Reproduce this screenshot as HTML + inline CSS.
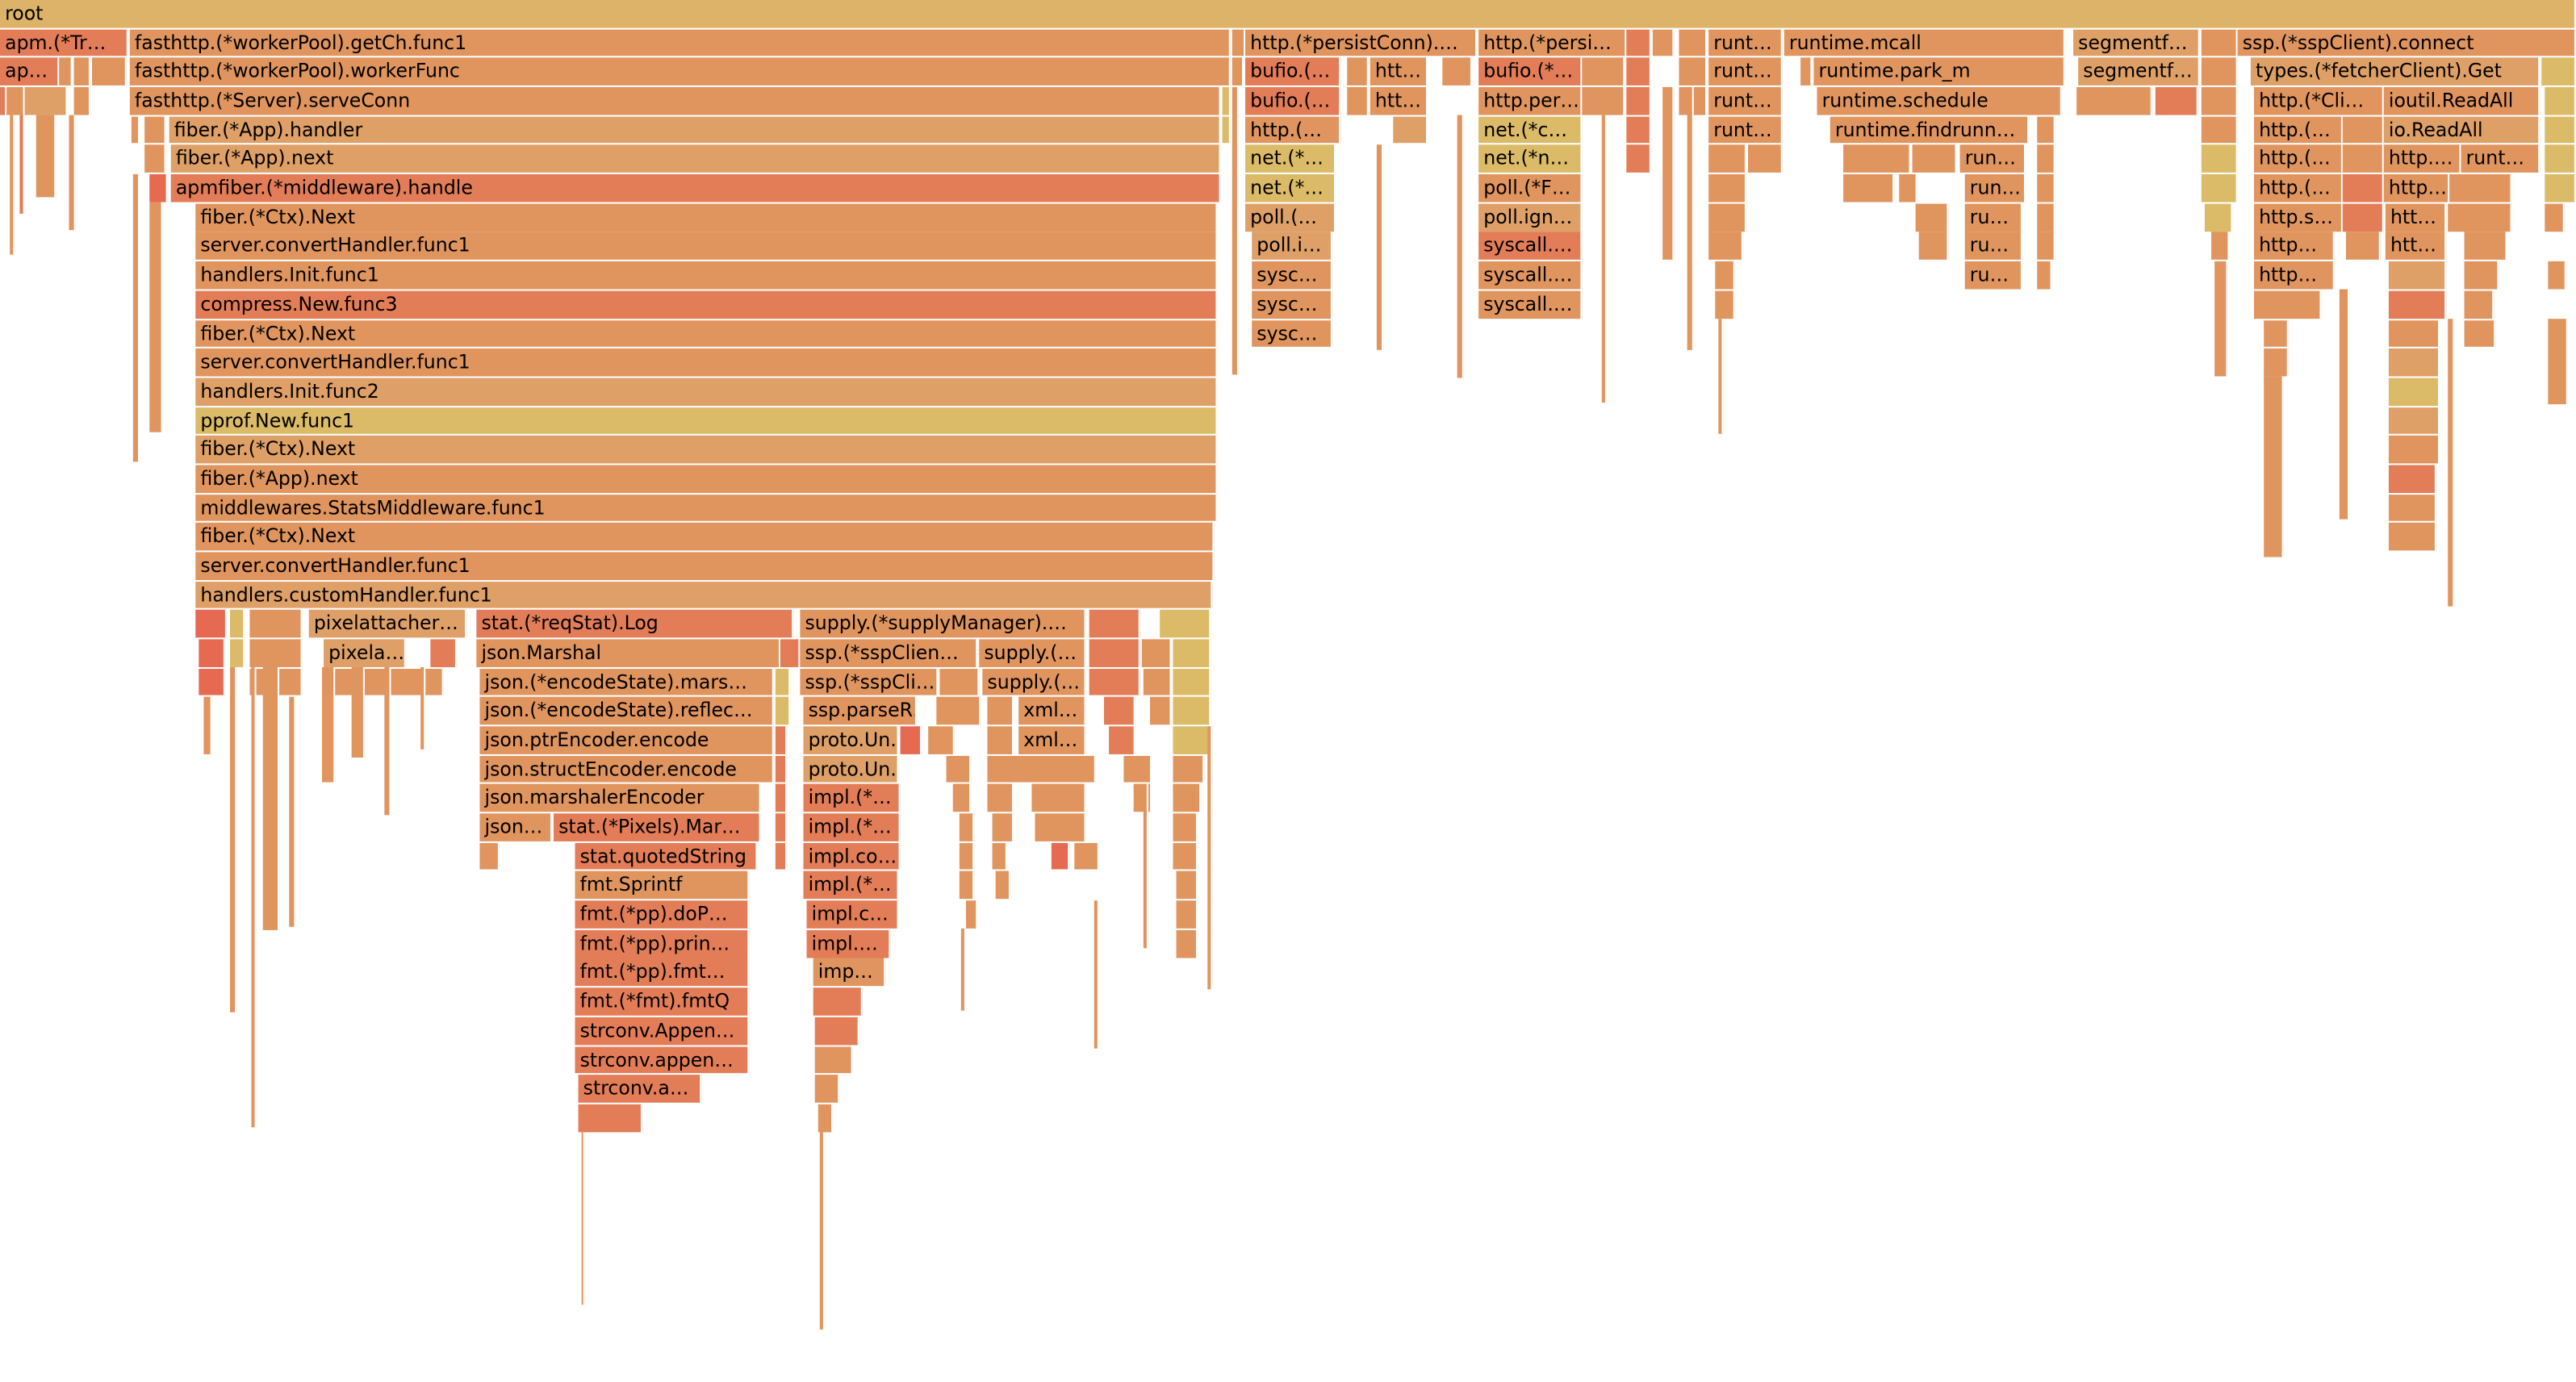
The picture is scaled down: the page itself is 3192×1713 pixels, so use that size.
<!DOCTYPE html>
<html><head><meta charset="utf-8"><style>
html,body{margin:0;padding:0;background:#fff;width:3192px;height:1713px;overflow:hidden}
#c{position:absolute;left:0;top:0;width:1568px;height:841px;transform:scale(2.0357,2.0369);transform-origin:0 0}
.b{position:absolute;height:16.8px;font:11.6px/16.8px "DejaVu Sans","Liberation Sans",sans-serif;color:#000;white-space:nowrap;overflow:hidden;padding-left:3px;box-sizing:border-box;border-right:1px solid #fff}
.s{position:absolute;box-sizing:border-box;border-right:1px solid #fff}
.O{background:#e0955f}.L{background:#dea067}.R{background:#e37d58}.Y{background:#dbbb67}.D{background:#e66a52}.T{background:#dcb368}
.r0{top:0}.r1{top:17.7px}.r2{top:35.4px}.r3{top:53px}.r4{top:70.7px}.r5{top:88.4px}.r6{top:106px}.r7{top:123.8px}.r8{top:141.4px}.r9{top:159.1px}.r10{top:176.8px}.r11{top:194.5px}.r12{top:212.2px}.r13{top:229.8px}.r14{top:247.5px}.r15{top:265.2px}.r16{top:282.9px}.r17{top:300.6px}.r18{top:318.2px}.r19{top:335.9px}.r20{top:353.6px}.r21{top:371.3px}.r22{top:389px}.r23{top:406.6px}.r24{top:424.3px}.r25{top:442px}.r26{top:459.7px}.r27{top:477.4px}.r28{top:495px}.r29{top:512.7px}.r30{top:530.4px}.r31{top:548.1px}.r32{top:565.8px}.r33{top:583.4px}.r34{top:601.1px}.r35{top:618.8px}.r36{top:636.5px}.r37{top:654.2px}.r38{top:671.8px}
</style></head><body><div id="c">
<div class="b T r0" style="left:0;width:1568px">root</div>
<!-- row1 -->
<div class="b R r1" style="left:0;width:78px">apm.(*Tr…</div>
<div class="b O r1" style="left:79px;width:670px">fasthttp.(*workerPool).getCh.func1</div>
<div class="b O r1" style="left:750px;width:8px"></div>
<div class="b O r1" style="left:758px;width:141px">http.(*persistConn).…</div>
<div class="b O r1" style="left:900px;width:90px">http.(*persi…</div>
<div class="b R r1" style="left:990px;width:15px"></div>
<div class="b O r1" style="left:1006px;width:13px"></div>
<div class="b O r1" style="left:1022px;width:17px"></div>
<div class="b O r1" style="left:1040px;width:45px">runt…</div>
<div class="b O r1" style="left:1086px;width:171px">runtime.mcall</div>
<div class="b L r1" style="left:1262px;width:77px">segmentf…</div>
<div class="b O r1" style="left:1340px;width:22px"></div>
<div class="b O r1" style="left:1362px;width:206px">ssp.(*sspClient).connect</div>
<!-- row2 -->
<div class="b R r2" style="left:0;width:36px">ap…</div>
<div class="b O r2" style="left:36px;width:8px"></div>
<div class="b O r2" style="left:45px;width:10px"></div>
<div class="b O r2" style="left:56px;width:21px"></div>
<div class="b O r2" style="left:79px;width:670px">fasthttp.(*workerPool).workerFunc</div>
<div class="b O r2" style="left:750px;width:7px"></div>
<div class="b R r2" style="left:758px;width:58px">bufio.(…</div>
<div class="b O r2" style="left:820px;width:13px"></div>
<div class="b O r2" style="left:834px;width:35px">htt…</div>
<div class="b O r2" style="left:878px;width:18px"></div>
<div class="b R r2" style="left:900px;width:63px">bufio.(*…</div>
<div class="b O r2" style="left:963px;width:26px"></div>
<div class="b R r2" style="left:990px;width:15px"></div>
<div class="b O r2" style="left:1022px;width:17px"></div>
<div class="b O r2" style="left:1040px;width:45px">runt…</div>
<div class="b O r2" style="left:1096px;width:7px"></div>
<div class="b O r2" style="left:1104px;width:153px">runtime.park_m</div>
<div class="b L r2" style="left:1265px;width:74px">segmentf…</div>
<div class="b O r2" style="left:1340px;width:22px"></div>
<div class="b L r2" style="left:1370px;width:176px">types.(*fetcherClient).Get</div>
<div class="b Y r2" style="left:1547px;width:21px"></div>
<!-- row3 -->
<div class="b R r3" style="left:0;width:4px"></div>
<div class="b O r3" style="left:4px;width:11px"></div>
<div class="b L r3" style="left:15px;width:26px"></div>
<div class="b O r3" style="left:45px;width:10px"></div>
<div class="b O r3" style="left:79px;width:664px">fasthttp.(*Server).serveConn</div>
<div class="b Y r3" style="left:744px;width:5px"></div>
<div class="b R r3" style="left:758px;width:58px">bufio.(…</div>
<div class="b O r3" style="left:820px;width:13px"></div>
<div class="b O r3" style="left:834px;width:35px">htt…</div>
<div class="b O r3" style="left:900px;width:63px">http.per…</div>
<div class="b O r3" style="left:963px;width:26px"></div>
<div class="b R r3" style="left:990px;width:15px"></div>
<div class="b O r3" style="left:1022px;width:17px"></div>
<div class="b O r3" style="left:1040px;width:45px">runt…</div>
<div class="b O r3" style="left:1106px;width:149px">runtime.schedule</div>
<div class="b O r3" style="left:1264px;width:46px"></div>
<div class="b R r3" style="left:1312px;width:26px"></div>
<div class="b O r3" style="left:1340px;width:22px"></div>
<div class="b O r3" style="left:1372px;width:79px">http.(*Cli…</div>
<div class="b O r3" style="left:1451px;width:95px">ioutil.ReadAll</div>
<div class="b Y r3" style="left:1549px;width:19px"></div>
<!-- row4 -->
<div class="b O r4" style="left:80px;width:5px"></div>
<div class="b O r4" style="left:88px;width:13px"></div>
<div class="b L r4" style="left:103px;width:640px">fiber.(*App).handler</div>
<div class="b Y r4" style="left:744px;width:5px"></div>
<div class="b O r4" style="left:758px;width:58px">http.(…</div>
<div class="b L r4" style="left:848px;width:21px"></div>
<div class="b Y r4" style="left:900px;width:63px">net.(*c…</div>
<div class="b R r4" style="left:990px;width:15px"></div>
<div class="b O r4" style="left:1040px;width:45px">runt…</div>
<div class="b O r4" style="left:1114px;width:121px">runtime.findrunn…</div>
<div class="b O r4" style="left:1240px;width:11px"></div>
<div class="b O r4" style="left:1340px;width:22px"></div>
<div class="b O r4" style="left:1372px;width:54px">http.(…</div>
<div class="b O r4" style="left:1426px;width:25px"></div>
<div class="b L r4" style="left:1451px;width:95px">io.ReadAll</div>
<div class="b Y r4" style="left:1549px;width:19px"></div>
<!-- row5 -->
<div class="b O r5" style="left:88px;width:13px"></div>
<div class="b L r5" style="left:104px;width:639px">fiber.(*App).next</div>
<div class="b Y r5" style="left:758px;width:55px">net.(*…</div>
<div class="b Y r5" style="left:900px;width:63px">net.(*n…</div>
<div class="b R r5" style="left:990px;width:15px"></div>
<div class="b O r5" style="left:1040px;width:23px"></div>
<div class="b O r5" style="left:1064px;width:21px"></div>
<div class="b O r5" style="left:1122px;width:41px"></div>
<div class="b O r5" style="left:1164px;width:27px"></div>
<div class="b O r5" style="left:1193px;width:40px">run…</div>
<div class="b O r5" style="left:1240px;width:11px"></div>
<div class="b Y r5" style="left:1340px;width:22px"></div>
<div class="b O r5" style="left:1372px;width:54px">http.(…</div>
<div class="b O r5" style="left:1426px;width:25px"></div>
<div class="b O r5" style="left:1451px;width:47px">http.…</div>
<div class="b O r5" style="left:1498px;width:48px">runt…</div>
<div class="b Y r5" style="left:1549px;width:19px"></div>
<!-- row6 -->
<div class="b D r6" style="left:91px;width:11px"></div>
<div class="b R r6" style="left:104px;width:639px">apmfiber.(*middleware).handle</div>
<div class="b Y r6" style="left:758px;width:55px">net.(*…</div>
<div class="b O r6" style="left:900px;width:63px">poll.(*F…</div>
<div class="b O r6" style="left:1040px;width:23px"></div>
<div class="b O r6" style="left:1122px;width:31px"></div>
<div class="b O r6" style="left:1156px;width:11px"></div>
<div class="b O r6" style="left:1196px;width:37px">run…</div>
<div class="b O r6" style="left:1240px;width:11px"></div>
<div class="b Y r6" style="left:1340px;width:22px"></div>
<div class="b O r6" style="left:1372px;width:54px">http.(…</div>
<div class="b R r6" style="left:1426px;width:25px"></div>
<div class="b O r6" style="left:1451px;width:40px">http…</div>
<div class="b O r6" style="left:1491px;width:38px"></div>
<div class="b Y r6" style="left:1549px;width:19px"></div>
<!-- row7 -->
<div class="b O r7" style="left:119px;width:622px">fiber.(*Ctx).Next</div>
<div class="b L r7" style="left:758px;width:55px">poll.(…</div>
<div class="b L r7" style="left:900px;width:63px">poll.ign…</div>
<div class="b O r7" style="left:1040px;width:23px"></div>
<div class="b O r7" style="left:1166px;width:20px"></div>
<div class="b O r7" style="left:1196px;width:35px">ru…</div>
<div class="b O r7" style="left:1240px;width:11px"></div>
<div class="b Y r7" style="left:1342px;width:17px"></div>
<div class="b O r7" style="left:1372px;width:54px">http.s…</div>
<div class="b R r7" style="left:1426px;width:25px"></div>
<div class="b O r7" style="left:1452px;width:37px">htt…</div>
<div class="b O r7" style="left:1490px;width:39px"></div>
<div class="b O r7" style="left:1549px;width:12px"></div>
<!-- row8 -->
<div class="b O r8" style="left:119px;width:622px">server.convertHandler.func1</div>
<div class="b L r8" style="left:762px;width:49px">poll.i…</div>
<div class="b R r8" style="left:900px;width:63px">syscall.…</div>
<div class="b O r8" style="left:1040px;width:21px"></div>
<div class="b O r8" style="left:1168px;width:18px"></div>
<div class="b O r8" style="left:1196px;width:35px">ru…</div>
<div class="b O r8" style="left:1240px;width:11px"></div>
<div class="b O r8" style="left:1346px;width:11px"></div>
<div class="b O r8" style="left:1372px;width:49px">http…</div>
<div class="b O r8" style="left:1428px;width:21px"></div>
<div class="b O r8" style="left:1452px;width:37px">htt…</div>
<div class="b O r8" style="left:1500px;width:26px"></div>
<!-- row9 -->
<div class="b O r9" style="left:119px;width:622px">handlers.Init.func1</div>
<div class="b O r9" style="left:762px;width:49px">sysc…</div>
<div class="b O r9" style="left:900px;width:63px">syscall.…</div>
<div class="b O r9" style="left:1044px;width:12px"></div>
<div class="b O r9" style="left:1196px;width:35px">ru…</div>
<div class="b O r9" style="left:1240px;width:9px"></div>
<div class="b O r9" style="left:1372px;width:49px">http…</div>
<div class="b L r9" style="left:1454px;width:35px"></div>
<div class="b O r9" style="left:1500px;width:21px"></div>
<div class="b O r9" style="left:1551px;width:11px"></div>
<!-- row10 -->
<div class="b R r10" style="left:119px;width:622px">compress.New.func3</div>
<div class="b O r10" style="left:762px;width:49px">sysc…</div>
<div class="b O r10" style="left:900px;width:63px">syscall.…</div>
<div class="b O r10" style="left:1044px;width:12px"></div>
<div class="b O r10" style="left:1372px;width:41px"></div>
<div class="b R r10" style="left:1454px;width:35px"></div>
<div class="b O r10" style="left:1500px;width:18px"></div>
<!-- row11-20 -->
<div class="b O r11" style="left:119px;width:622px">fiber.(*Ctx).Next</div>
<div class="b O r11" style="left:762px;width:49px">sysc…</div>
<div class="b O r11" style="left:1378px;width:15px"></div>
<div class="b O r11" style="left:1454px;width:31px"></div>
<div class="b O r11" style="left:1500px;width:19px"></div>
<div class="b O r12" style="left:119px;width:622px">server.convertHandler.func1</div>
<div class="b O r12" style="left:1378px;width:15px"></div>
<div class="b L r12" style="left:1454px;width:31px"></div>
<div class="b L r13" style="left:119px;width:622px">handlers.Init.func2</div>
<div class="b Y r13" style="left:1454px;width:31px"></div>
<div class="b Y r14" style="left:119px;width:622px">pprof.New.func1</div>
<div class="b L r14" style="left:1454px;width:31px"></div>
<div class="b L r15" style="left:119px;width:622px">fiber.(*Ctx).Next</div>
<div class="b O r15" style="left:1454px;width:31px"></div>
<div class="b O r16" style="left:119px;width:622px">fiber.(*App).next</div>
<div class="b R r16" style="left:1454px;width:29px"></div>
<div class="b O r17" style="left:119px;width:622px">middlewares.StatsMiddleware.func1</div>
<div class="b O r17" style="left:1454px;width:29px"></div>
<div class="b O r18" style="left:119px;width:620px">fiber.(*Ctx).Next</div>
<div class="b O r18" style="left:1454px;width:29px"></div>
<div class="b O r19" style="left:119px;width:620px">server.convertHandler.func1</div>
<div class="b L r20" style="left:119px;width:619px">handlers.customHandler.func1</div>
<!-- row21 -->
<div class="b D r21" style="left:119px;width:19px"></div>
<div class="b Y r21" style="left:140px;width:9px"></div>
<div class="b O r21" style="left:152px;width:32px"></div>
<div class="b L r21" style="left:188px;width:96px">pixelattacher…</div>
<div class="b R r21" style="left:290px;width:193px">stat.(*reqStat).Log</div>
<div class="b O r21" style="left:487px;width:174px">supply.(*supplyManager).…</div>
<div class="b R r21" style="left:663px;width:31px"></div>
<div class="b Y r21" style="left:706px;width:31px"></div>
<!-- row22 -->
<div class="b D r22" style="left:121px;width:16px"></div>
<div class="b Y r22" style="left:140px;width:9px"></div>
<div class="b O r22" style="left:152px;width:32px"></div>
<div class="b L r22" style="left:197px;width:50px">pixela…</div>
<div class="b R r22" style="left:262px;width:16px"></div>
<div class="b O r22" style="left:290px;width:185px">json.Marshal</div>
<div class="b R r22" style="left:475px;width:12px"></div>
<div class="b O r22" style="left:487px;width:108px">ssp.(*sspClien…</div>
<div class="b O r22" style="left:596px;width:65px">supply.(…</div>
<div class="b R r22" style="left:663px;width:31px"></div>
<div class="b O r22" style="left:695px;width:18px"></div>
<div class="b Y r22" style="left:714px;width:23px"></div>
<!-- row23 -->
<div class="b D r23" style="left:121px;width:16px"></div>
<div class="b O r23" style="left:152px;width:32px"></div>
<div class="b O r23" style="left:200px;width:70px"></div>
<div class="b O r23" style="left:292px;width:179px">json.(*encodeState).mars…</div>
<div class="b Y r23" style="left:472px;width:9px"></div>
<div class="b O r23" style="left:487px;width:84px">ssp.(*sspCli…</div>
<div class="b O r23" style="left:572px;width:24px"></div>
<div class="b O r23" style="left:598px;width:63px">supply.(…</div>
<div class="b R r23" style="left:663px;width:31px"></div>
<div class="b O r23" style="left:696px;width:17px"></div>
<div class="b Y r23" style="left:714px;width:23px"></div>
<!-- row24 -->
<div class="b O r24" style="left:292px;width:179px">json.(*encodeState).reflec…</div>
<div class="b Y r24" style="left:472px;width:9px"></div>
<div class="b O r24" style="left:489px;width:69px">ssp.parseR…</div>
<div class="b O r24" style="left:570px;width:27px"></div>
<div class="b O r24" style="left:601px;width:16px"></div>
<div class="b O r24" style="left:620px;width:41px">xml…</div>
<div class="b R r24" style="left:672px;width:19px"></div>
<div class="b O r24" style="left:700px;width:13px"></div>
<div class="b Y r24" style="left:714px;width:23px"></div>
<!-- row25 -->
<div class="b O r25" style="left:292px;width:179px">json.ptrEncoder.encode</div>
<div class="b R r25" style="left:472px;width:7px"></div>
<div class="b L r25" style="left:489px;width:58px">proto.Un…</div>
<div class="b D r25" style="left:548px;width:13px"></div>
<div class="b O r25" style="left:565px;width:16px"></div>
<div class="b O r25" style="left:601px;width:16px"></div>
<div class="b O r25" style="left:620px;width:41px">xml…</div>
<div class="b R r25" style="left:675px;width:16px"></div>
<div class="b Y r25" style="left:714px;width:23px"></div>
<!-- row26 -->
<div class="b O r26" style="left:292px;width:179px">json.structEncoder.encode</div>
<div class="b R r26" style="left:472px;width:7px"></div>
<div class="b L r26" style="left:489px;width:58px">proto.Un…</div>
<div class="b O r26" style="left:576px;width:15px"></div>
<div class="b O r26" style="left:601px;width:66px"></div>
<div class="b O r26" style="left:684px;width:17px"></div>
<div class="b O r26" style="left:714px;width:19px"></div>
<!-- row27 -->
<div class="b O r27" style="left:292px;width:171px">json.marshalerEncoder</div>
<div class="b R r27" style="left:472px;width:7px"></div>
<div class="b R r27" style="left:489px;width:59px">impl.(*…</div>
<div class="b O r27" style="left:580px;width:11px"></div>
<div class="b O r27" style="left:601px;width:16px"></div>
<div class="b O r27" style="left:628px;width:33px"></div>
<div class="b O r27" style="left:690px;width:11px"></div>
<div class="b O r27" style="left:714px;width:17px"></div>
<!-- row28 -->
<div class="b O r28" style="left:292px;width:44px">json…</div>
<div class="b R r28" style="left:337px;width:126px">stat.(*Pixels).Mar…</div>
<div class="b R r28" style="left:472px;width:7px"></div>
<div class="b R r28" style="left:489px;width:59px">impl.(*…</div>
<div class="b O r28" style="left:584px;width:9px"></div>
<div class="b O r28" style="left:604px;width:13px"></div>
<div class="b O r28" style="left:630px;width:31px"></div>
<div class="b O r28" style="left:714px;width:15px"></div>
<!-- row29 -->
<div class="b O r29" style="left:292px;width:12px"></div>
<div class="b R r29" style="left:350px;width:111px">stat.quotedString</div>
<div class="b R r29" style="left:472px;width:7px"></div>
<div class="b R r29" style="left:489px;width:59px">impl.co…</div>
<div class="b O r29" style="left:584px;width:9px"></div>
<div class="b O r29" style="left:604px;width:9px"></div>
<div class="b D r29" style="left:640px;width:11px"></div>
<div class="b O r29" style="left:654px;width:15px"></div>
<div class="b O r29" style="left:714px;width:15px"></div>
<!-- rows30-38 -->
<div class="b O r30" style="left:350px;width:106px">fmt.Sprintf</div>
<div class="b R r30" style="left:489px;width:58px">impl.(*…</div>
<div class="b O r30" style="left:584px;width:9px"></div>
<div class="b O r30" style="left:606px;width:9px"></div>
<div class="b O r30" style="left:716px;width:13px"></div>
<div class="b R r31" style="left:350px;width:106px">fmt.(*pp).doP…</div>
<div class="b R r31" style="left:491px;width:56px">impl.c…</div>
<div class="b O r31" style="left:588px;width:7px"></div>
<div class="b O r31" style="left:716px;width:13px"></div>
<div class="b R r32" style="left:350px;width:106px">fmt.(*pp).prin…</div>
<div class="b R r32" style="left:491px;width:51px">impl.…</div>
<div class="b O r32" style="left:716px;width:13px"></div>
<div class="b R r33" style="left:350px;width:106px">fmt.(*pp).fmt…</div>
<div class="b O r33" style="left:495px;width:44px">imp…</div>
<div class="b R r34" style="left:350px;width:106px">fmt.(*fmt).fmtQ</div>
<div class="b R r34" style="left:495px;width:30px"></div>
<div class="b R r35" style="left:350px;width:106px">strconv.Appen…</div>
<div class="b R r35" style="left:496px;width:27px"></div>
<div class="b R r36" style="left:350px;width:106px">strconv.appen…</div>
<div class="b O r36" style="left:496px;width:23px"></div>
<div class="b R r37" style="left:352px;width:75px">strconv.a…</div>
<div class="b O r37" style="left:496px;width:15px"></div>
<div class="b R r38" style="left:352px;width:39px"></div>
<div class="b O r38" style="left:498px;width:9px"></div>
<!-- thin strips -->
<div class="s O" style="left:6px;top:70px;width:3px;height:85px"></div>
<div class="s R" style="left:12px;top:70px;width:3px;height:60px"></div>
<div class="s O" style="left:22px;top:70px;width:12px;height:50px"></div>
<div class="s O" style="left:42px;top:70px;width:4px;height:70px"></div>
<div class="s O" style="left:81px;top:106px;width:4px;height:175px"></div>
<div class="s O" style="left:91px;top:123px;width:8px;height:140px"></div>
<div class="s O" style="left:750px;top:53px;width:4px;height:175px"></div>
<div class="s O" style="left:838px;top:88px;width:4px;height:125px"></div>
<div class="s O" style="left:887px;top:70px;width:4px;height:160px"></div>
<div class="s O" style="left:975px;top:70px;width:3px;height:175px"></div>
<div class="s O" style="left:1012px;top:53px;width:7px;height:105px"></div>
<div class="s O" style="left:1027px;top:53px;width:4px;height:160px"></div>
<div class="s O" style="left:1046px;top:194px;width:3px;height:70px"></div>
<div class="s O" style="left:1348px;top:159px;width:8px;height:70px"></div>
<div class="s O" style="left:1378px;top:229px;width:12px;height:110px"></div>
<div class="s O" style="left:1424px;top:176px;width:6px;height:140px"></div>
<div class="s O" style="left:1490px;top:194px;width:4px;height:175px"></div>
<div class="s O" style="left:1551px;top:194px;width:12px;height:52px"></div>
<div class="s O" style="left:124px;top:424px;width:5px;height:35px"></div>
<div class="s O" style="left:140px;top:406px;width:4px;height:210px"></div>
<div class="s O" style="left:153px;top:406px;width:3px;height:280px"></div>
<div class="s O" style="left:160px;top:406px;width:10px;height:160px"></div>
<div class="s O" style="left:176px;top:424px;width:4px;height:140px"></div>
<div class="s O" style="left:196px;top:406px;width:8px;height:70px"></div>
<div class="s O" style="left:214px;top:406px;width:8px;height:55px"></div>
<div class="s O" style="left:234px;top:406px;width:4px;height:90px"></div>
<div class="s O" style="left:256px;top:406px;width:3px;height:50px"></div>
<div class="s O" style="left:307px;top:495px;width:6px;height:0"></div>
<div class="s O" style="left:354px;top:689px;width:2px;height:105px"></div>
<div class="s O" style="left:499px;top:689px;width:3px;height:120px"></div>
<div class="s O" style="left:585px;top:565px;width:3px;height:50px"></div>
<div class="s O" style="left:666px;top:548px;width:3px;height:90px"></div>
<div class="s O" style="left:696px;top:477px;width:3px;height:100px"></div>
<div class="s O" style="left:735px;top:442px;width:3px;height:160px"></div>
</div></body></html>
